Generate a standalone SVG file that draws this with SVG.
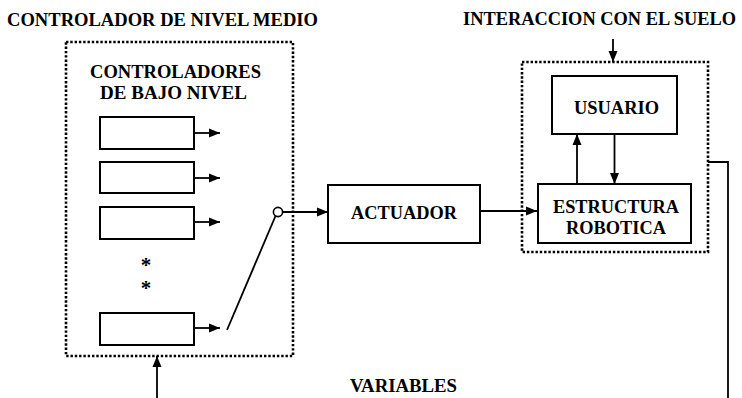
<svg xmlns="http://www.w3.org/2000/svg" width="742" height="398" viewBox="0 0 742 398">
<style>
text{font-family:'Liberation Serif','Times New Roman',Tinos,'DejaVu Serif','Noto Serif',serif;font-weight:bold;font-size:18.4px;fill:#000}
.box{fill:#fff;stroke:#000;stroke-width:2}
.dot{fill:none;stroke:#000;stroke-width:2.6;stroke-dasharray:2.4 1.9}
.ln{fill:none;stroke:#000;stroke-width:1.8}
text.ast{font-size:21px;fill:#000}
</style>
<defs>
<marker id="ah" markerUnits="userSpaceOnUse" markerWidth="12" markerHeight="10" refX="11" refY="5" orient="auto">
<path d="M0,0.5 L11,5 L0,9.5 Z" fill="#000"/>
</marker>
</defs>
<rect width="742" height="398" fill="#fff"/>
<text x="7" y="26" textLength="311" lengthAdjust="spacingAndGlyphs">CONTROLADOR DE NIVEL MEDIO</text>
<text x="463" y="25" textLength="273" lengthAdjust="spacingAndGlyphs">INTERACCION CON EL SUELO</text>
<text x="350" y="392" textLength="107" lengthAdjust="spacingAndGlyphs">VARIABLES</text>
<g id="medio">
<rect class="dot" x="66" y="42" width="227" height="314"/>
<text x="90" y="78" textLength="171" lengthAdjust="spacingAndGlyphs">CONTROLADORES</text>
<text x="100" y="99" textLength="147" lengthAdjust="spacingAndGlyphs">DE BAJO NIVEL</text>
</g>
<g id="ctrl1"><rect class="box" x="100" y="117" width="94" height="32"/></g>
<g id="ctrl2"><rect class="box" x="100" y="162" width="94" height="31"/></g>
<g id="ctrl3"><rect class="box" x="100" y="207" width="94" height="32"/></g>
<g id="ctrl4"><rect class="box" x="100" y="313" width="94" height="32"/></g>
<g id="dots">
<text class="ast" x="146" y="272" text-anchor="middle">*</text>
<text class="ast" x="146" y="295" text-anchor="middle">*</text>
</g>
<g id="actuador">
<rect class="box" x="328" y="185" width="152" height="58"/>
<text x="351" y="219" textLength="106" lengthAdjust="spacingAndGlyphs">ACTUADOR</text>
</g>
<g id="suelo">
<rect class="dot" x="522" y="62" width="186" height="190"/>
</g>
<g id="usuario">
<rect class="box" x="552" y="76" width="125" height="58"/>
<text x="574" y="114" textLength="85" lengthAdjust="spacingAndGlyphs">USUARIO</text>
</g>
<g id="estructura">
<rect class="box" x="538" y="184" width="153" height="59"/>
<text x="553" y="212.5" textLength="126" lengthAdjust="spacingAndGlyphs">ESTRUCTURA</text>
<text x="566" y="234" textLength="100" lengthAdjust="spacingAndGlyphs">ROBOTICA</text>
</g>
<g id="connectors">
<line class="ln" x1="194" y1="133" x2="220" y2="133" marker-end="url(#ah)"/>
<line class="ln" x1="194" y1="178" x2="220" y2="178" marker-end="url(#ah)"/>
<line class="ln" x1="194" y1="222" x2="220" y2="222" marker-end="url(#ah)"/>
<line class="ln" x1="194" y1="328" x2="220" y2="328" marker-end="url(#ah)"/>
<line class="ln" x1="227" y1="330" x2="275.5" y2="216"/>
<circle cx="278" cy="212" r="4.6" fill="#fff" stroke="#000" stroke-width="1.6"/>
<line class="ln" x1="282.6" y1="212" x2="328" y2="212" marker-end="url(#ah)"/>
<line class="ln" x1="480" y1="211" x2="537" y2="211" marker-end="url(#ah)"/>
<line class="ln" x1="577" y1="184" x2="577" y2="134" marker-end="url(#ah)"/>
<line class="ln" x1="614.5" y1="134" x2="614.5" y2="184" marker-end="url(#ah)"/>
<line class="ln" x1="613" y1="39" x2="613" y2="62" marker-end="url(#ah)"/>
<polyline class="ln" points="708,162 728,162 728,398"/>
<line class="ln" x1="157" y1="398" x2="157" y2="356" marker-end="url(#ah)"/>
</g>
</svg>
